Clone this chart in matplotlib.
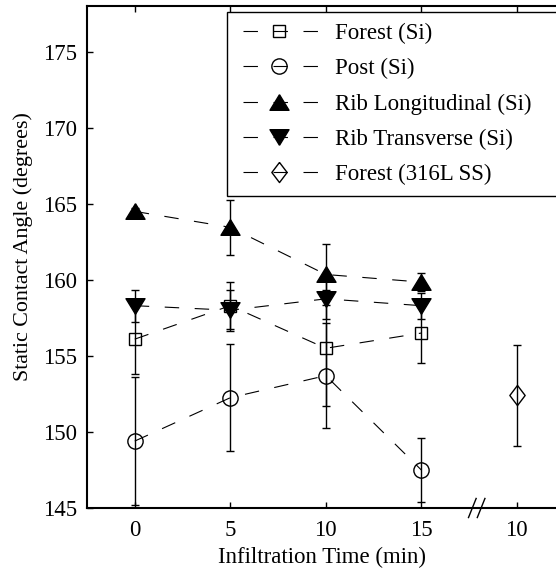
import matplotlib
matplotlib.use("Agg")
import matplotlib.pyplot as plt
import matplotlib.transforms as mtransforms
from matplotlib.lines import Line2D

plt.rcParams['font.family'] = ['Liberation Serif', 'DejaVu Serif']
plt.rcParams['font.size'] = 16.5
plt.rcParams['lines.scale_dashes'] = False

# x positions (the last group "10" is a separate 316L SS sample at break position)
times = [0, 5, 10, 15]
tick_pos = [0, 5, 10, 15, 20]
tick_labels = ['0', '5', '10', '15', '10']

forest_si = [156.1, 158.3, 155.5, 156.5]
forest_si_err = [2.3, 1.55, 3.8, 1.95]
post_si = [149.4, 152.25, 153.7, 147.5]
post_si_err = [4.2, 3.5, 3.45, 2.1]
rib_long = [164.5, 163.45, 160.35, 159.85]
rib_long_err = [0.2, 1.8, 2.0, 0.6]
rib_trans = [158.3, 158.0, 158.75, 158.3]
rib_trans_err = [1.05, 1.35, 1.3, 0.85]
ss_x = [20]
forest_ss = [152.4]
forest_ss_err = [3.3]

fig = plt.figure(figsize=(5.56, 5.69), dpi=100)
ax = fig.add_axes([87/556, 1 - 508/569, 1 - 87/556, (508 - 6)/569])

dash_on, dash_off = 10.4, 11.2
lw = 0.8
diamond = [(0, 1), (0.76, 0), (0, -1), (-0.76, 0), (0, 1)]
tri_up = [(0, 0.82), (1, -0.82), (-1, -0.82), (0, 0.82)]
tri_dn = [(0, -0.82), (1, 0.82), (-1, 0.82), (0, -0.82)]

series = [
    (times, forest_si, forest_si_err, 's', 9.3, 'none', 'Forest (Si)'),
    (times, post_si, post_si_err, 'o', 11, 'none', 'Post (Si)'),
    (times, rib_long, rib_long_err, tri_up, 13.7, 'black', 'Rib Longitudinal (Si)'),
    (times, rib_trans, rib_trans_err, tri_dn, 13.7, 'black', 'Rib Transverse (Si)'),
    (ss_x, forest_ss, forest_ss_err, diamond, 14.5, 'none', 'Forest (316L SS)'),
]

handles = []
for x, y, e, m, ms, fc, lab in series:
    ax.errorbar(x, y, yerr=e, fmt='none', ecolor='black', elinewidth=1.0,
                capsize=2.6, capthick=1.0, zorder=2)
    ax.plot(x, y, color='black', linestyle=(0, (dash_on, dash_off)), linewidth=lw,
            marker=m, markersize=ms, markerfacecolor=fc,
            markeredgecolor='black', markeredgewidth=1.0, zorder=3)
    handles.append(Line2D([], [], color='black',
                          linestyle=(dash_on + dash_off - 3.6, (dash_on, dash_off)),
                          linewidth=lw, marker=m, markersize=ms, markerfacecolor=fc,
                          markeredgecolor='black', markeredgewidth=1.0, label=lab))

ax.set_xlim(-2.5, 22.05)
ax.set_ylim(145, 178)
ax.set_xticks(tick_pos)
ax.set_xticklabels(tick_labels)
ax.set_yticks([145, 150, 155, 160, 165, 170, 175])
ax.tick_params(direction='in', length=4, width=1, top=True, right=False)
ax.tick_params(axis='x', pad=9)
ax.tick_params(axis='y', pad=7)
ax.spines['right'].set_visible(False)
for s in ['left', 'top', 'bottom']:
    ax.spines[s].set_linewidth(1.5)

# axis break marks
trans = mtransforms.blended_transform_factory(ax.transData, ax.transAxes)
for dx in (-0.23, 0.23):
    ax.add_line(Line2D([17.9 + dx - 0.2, 17.9 + dx + 0.2], [-0.019, 0.019],
                       transform=trans, color='black', linewidth=1.0, clip_on=False))

ax.set_xlabel('Infiltration Time (min)', labelpad=4)
ax.set_ylabel('Static Contact Angle (degrees)', fontsize=15.8)
ax.yaxis.set_label_coords((33 - 87) / 469, (508 - 246.5) / 502)

leg = ax.legend(handles=handles, loc='upper left',
                bbox_to_anchor=(226.7/556, 1 - 11.7/569, 0.65, 0),
                bbox_transform=fig.transFigure, mode='expand',
                frameon=True, fancybox=False, framealpha=1, edgecolor='black',
                handlelength=3.54, handletextpad=0.7, labelspacing=0.61,
                borderpad=0.5, borderaxespad=0, fontsize=16.5)
leg.get_frame().set_linewidth(1.0)

fig.savefig('out.png', dpi=100)
